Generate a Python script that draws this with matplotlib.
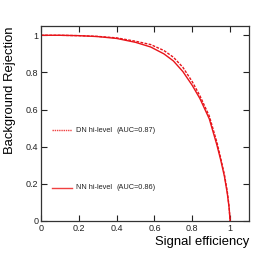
import matplotlib
matplotlib.use("Agg")
import matplotlib.pyplot as plt

plt.rcParams['font.family'] = ['Liberation Sans', 'DejaVu Sans']

# ROC curves
eff = [0.0, 0.1, 0.2, 0.3, 0.4, 0.5, 0.58, 0.65, 0.7, 0.75, 0.8, 0.84, 0.89, 0.93,
       0.95, 0.97, 0.985, 0.995, 1.0]
rej_nn = [1.0, 1.0, 0.998, 0.993, 0.983, 0.962, 0.937, 0.90, 0.862, 0.805, 0.73, 0.66, 0.55, 0.41,
          0.33, 0.24, 0.15, 0.07, 0.0]
rej_dn = [1.0, 1.0, 0.998, 0.994, 0.986, 0.968, 0.950, 0.918, 0.882, 0.828, 0.75, 0.675, 0.565, 0.425,
          0.34, 0.25, 0.16, 0.075, 0.0]

labels = ["DN hi-level", "NN hi-level"]
aucs = ["(AUC=0.87)", "(AUC=0.86)"]
xticks = [0, 0.2, 0.4, 0.6, 0.8, 1]
xticklabels = ["0", "0.2", "0.4", "0.6", "0.8", "1"]

fig = plt.figure(figsize=(2.77, 2.6), dpi=100)
ax = fig.add_axes([41/277, 1 - 221/260, 208/277, 195/260])

ax.plot(eff, rej_dn, color='#e8141a', lw=1.0, ls=(0, (2, 1)))
ax.plot(eff, rej_nn, color='#e8141a', lw=1.0)

ax.set_xlim(0, 1.1)
ax.set_ylim(0, 1.05)
ax.set_xticks(xticks)
ax.set_xticklabels(xticklabels)
ax.set_yticks(xticks)
ax.set_yticklabels(xticklabels)
ax.tick_params(direction='in', top=True, right=True, length=4, width=0.8,
               labelsize=6.5, pad=2, colors='#222222')
for s in ax.spines.values():
    s.set_linewidth(0.9)
    s.set_color('#333333')

# legend drawn by hand, ROOT style
for yy, ls, lab, auc in [(0.49, (0, (1, 0.6)), labels[0], aucs[0]),
                         (0.18, '-', labels[1], aucs[1])]:
    ax.plot([0.06, 0.165], [yy, yy], color='#f04040', lw=1.0, ls=ls)
    ax.text(0.187, yy, lab, fontsize=5.3, va='center', color='#222222')
    ax.text(0.40, yy, auc, fontsize=5.3, va='center', color='#222222')

ax.set_xlabel("Signal efficiency", fontsize=9.4, loc='right', labelpad=2)
ax.set_ylabel("Background Rejection", fontsize=9.4, loc='top', labelpad=7)

fig.savefig("out.png", dpi=100)
